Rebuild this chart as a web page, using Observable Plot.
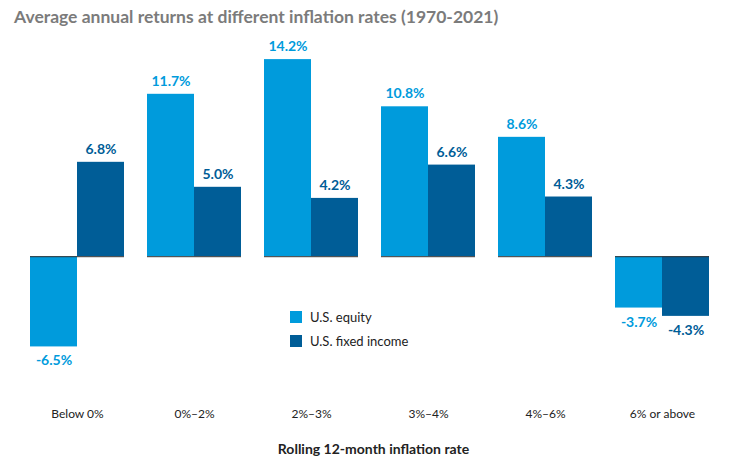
<!DOCTYPE html>
<html><head><meta charset="utf-8">
<script src="https://cdn.jsdelivr.net/npm/d3@7"></script>
<script src="https://cdn.jsdelivr.net/npm/@observablehq/plot@0.6"></script>
<style>
body{margin:0;font-family:Lato,"Open Sans",sans-serif;background:#fff;}
#wrap{position:relative;width:747px;height:467px;}
#title{height:30px;line-height:34px;padding-left:14px;font-size:17.5px;font-weight:bold;color:#7b7b7b;}
#cap{position:absolute;top:440px;width:747px;text-align:center;font-size:14px;font-weight:bold;color:#222;}
.lg{position:absolute;left:290px;font-size:13px;color:#222;display:flex;align-items:center;}
.lg span{display:inline-block;width:12px;height:12px;margin-right:8px;}
</style></head><body>
<div id="wrap">
<div id="title">Average annual returns at different inflation rates (1970-2021)</div>
<div id="chart"></div>
<div class="lg" style="top:309px"><span style="background:#009bdc"></span>U.S. equity</div>
<div class="lg" style="top:333px"><span style="background:#005d97"></span>U.S. fixed income</div>
<div id="cap">Rolling 12-month inflation rate</div>
</div>
<script>
const categories=["Below 0%","0%–2%","2%–3%","3%–4%","4%–6%","6% or above"];
const series=["U.S. equity","U.S. fixed income"];
const equity=[-6.5,11.7,14.2,10.8,8.6,-3.7];
const fixedIncome=[6.8,5.0,4.2,6.6,4.3,-4.3];
const colors=["#009bdc","#005d97"];
const data=[];
categories.forEach((c,i)=>{data.push({cat:c,s:series[0],v:equity[i]});data.push({cat:c,s:series[1],v:fixedIncome[i]});});
const fmt=d=>d.v.toFixed(1)+"%";
const chart=Plot.plot({
  width:747,height:400,marginLeft:16,marginRight:25,marginTop:18,marginBottom:35,
  style:{fontFamily:"Lato, 'Open Sans', sans-serif"},
  fx:{domain:categories,paddingInner:0.2,paddingOuter:0.1,label:null,axis:null},
  x:{domain:series,axis:null,padding:0},
  y:{domain:[-10,15],axis:null},
  color:{domain:series,range:colors},
  marks:[
    Plot.barY(data,{fx:"cat",x:"s",y:"v",fill:"s"}),
    Plot.ruleY([0],{stroke:"#333",strokeWidth:1}),
    Plot.text(data.filter(d=>d.v>=0),{fx:"cat",x:"s",y:"v",text:fmt,fill:"s",dy:-13,fontSize:14,fontWeight:"bold"}),
    Plot.text(data.filter(d=>d.v<0),{fx:"cat",x:"s",y:"v",text:fmt,fill:"s",dy:14,fontSize:14,fontWeight:"bold"}),
    Plot.axisFx({anchor:"bottom",tickSize:0,tickPadding:14,fontSize:12,label:null,color:"#222"})
  ]
});
document.getElementById("chart").appendChild(chart);
</script>
</body></html>
